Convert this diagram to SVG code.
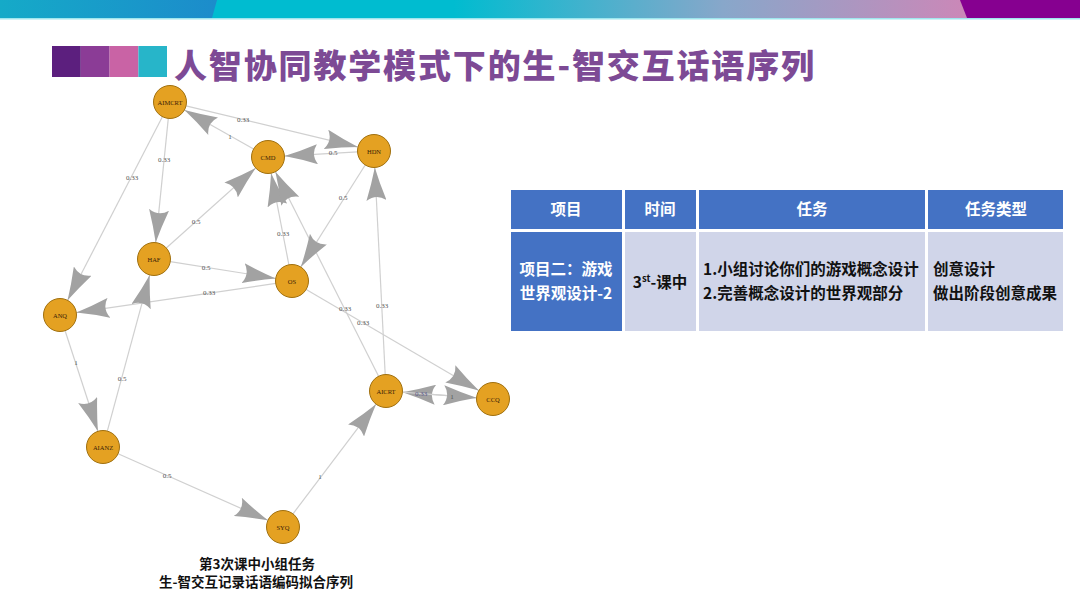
<svg xmlns="http://www.w3.org/2000/svg" width="1080" height="608" viewBox="0 0 1080 608">
<defs>
<linearGradient id="bannerGrad" x1="0" y1="0" x2="1080" y2="0" gradientUnits="userSpaceOnUse">
<stop offset="0" stop-color="#00BCD0"/>
<stop offset="0.42" stop-color="#00BCD0"/>
<stop offset="0.67" stop-color="#88A7CA"/>
<stop offset="0.89" stop-color="#CA88B8"/>
<stop offset="1" stop-color="#CA88B8"/>
</linearGradient>
<linearGradient id="leftGrad" x1="0" y1="0" x2="217" y2="0" gradientUnits="userSpaceOnUse">
<stop offset="0" stop-color="#15AAC8"/>
<stop offset="1" stop-color="#1C8CCB"/>
</linearGradient>
<marker id="ah" viewBox="0 0 33 20" refX="33" refY="10" markerWidth="33" markerHeight="20" markerUnits="userSpaceOnUse" orient="auto">
<path d="M33,10 Q17,6 0,0 Q7,10 0,20 Q17,14 33,10 Z" fill="#a2a2a2"/>
</marker>
<style>
.edge{stroke:#d0d0d0;stroke-width:1.2;fill:none;marker-end:url(#ah)}
.elab{font-family:"Liberation Serif",serif;font-size:7px;fill:#555;text-anchor:middle;dominant-baseline:central}
.node circle{fill:#E4A122;stroke:#A0700F;stroke-width:1}
.node text{font-family:"Liberation Serif",serif;font-size:6.5px;fill:#3a2208;text-anchor:middle;dominant-baseline:central}
.th{fill:#4472C4}
.td{fill:#D0D5E9}
.ht{font-family:"Noto Sans CJK SC","Noto Sans",sans-serif;font-size:15.5px;font-weight:700;fill:#fff;text-anchor:middle}
.bt{font-family:"Noto Sans CJK SC","Noto Sans",sans-serif;font-size:15.5px;font-weight:700;fill:#111}
.cap{font-family:"Noto Sans CJK SC","Noto Sans",sans-serif;font-size:13.5px;font-weight:700;fill:#111;text-anchor:middle}
</style>
</defs>
<rect width="1080" height="608" fill="#fff"/>
<!-- banner -->
<rect x="0" y="0" width="1080" height="18" fill="url(#bannerGrad)"/>
<polygon points="0,0 217,0 212,18 0,18" fill="url(#leftGrad)"/>
<polygon points="960,0 1080,0 1080,18 967,18" fill="#860090"/>
<rect x="0" y="18" width="1080" height="1.5" fill="#9FE6EE"/>
<!-- title -->
<rect x="52" y="46" width="28.8" height="31" fill="#5C1F7E"/>
<rect x="80.8" y="46" width="28.8" height="31" fill="#8B3C96"/>
<rect x="109.6" y="46" width="28.8" height="31" fill="#C963A5"/>
<rect x="138.4" y="46" width="28.6" height="31" fill="#27B5C9"/>
<text x="174" y="78" font-family="'Noto Sans CJK SC','Noto Sans',sans-serif" font-size="33" font-weight="900" fill="#7D4A95" textLength="640" lengthAdjust="spacing">人智协同教学模式下的生-智交互话语序列</text>
<!-- connectors -->
<g id="connectors">
<line class="edge" x1="186.0" y1="105.9" x2="358.0" y2="147.1"/>
<line class="edge" x1="253.6" y1="148.9" x2="184.4" y2="110.1"/>
<line class="edge" x1="357.5" y1="151.9" x2="284.5" y2="156.1"/>
<line class="edge" x1="168.3" y1="118.4" x2="155.7" y2="242.6"/>
<line class="edge" x1="162.4" y1="116.7" x2="67.6" y2="300.3"/>
<line class="edge" x1="166.3" y1="248.0" x2="255.7" y2="168.0"/>
<line class="edge" x1="288.9" y1="264.8" x2="271.1" y2="173.2"/>
<line class="edge" x1="378.6" y1="376.3" x2="275.4" y2="171.7"/>
<line class="edge" x1="365.2" y1="165.0" x2="300.8" y2="267.0"/>
<line class="edge" x1="385.2" y1="374.5" x2="374.8" y2="167.5"/>
<line class="edge" x1="170.3" y1="261.6" x2="275.7" y2="278.4"/>
<line class="edge" x1="275.7" y1="283.4" x2="76.3" y2="312.6"/>
<line class="edge" x1="65.1" y1="330.7" x2="97.9" y2="431.3"/>
<line class="edge" x1="107.3" y1="431.1" x2="149.7" y2="274.9"/>
<line class="edge" x1="118.1" y1="453.7" x2="267.9" y2="520.3"/>
<line class="edge" x1="293.0" y1="513.8" x2="376.0" y2="404.2"/>
<line class="edge" x1="306.2" y1="289.4" x2="478.8" y2="390.6"/>
<line class="edge" x1="476.5" y1="397.8" x2="402.5" y2="392.2"/>
<line class="edge" x1="402.5" y1="392.2" x2="476.5" y2="397.8"/>
<text class="elab" x="243" y="120">0.33</text>
<text class="elab" x="230" y="137">1</text>
<text class="elab" x="333" y="153">0.5</text>
<text class="elab" x="164" y="160">0.33</text>
<text class="elab" x="132" y="178">0.33</text>
<text class="elab" x="343" y="198">0.5</text>
<text class="elab" x="196" y="222">0.5</text>
<text class="elab" x="283" y="234">0.33</text>
<text class="elab" x="206" y="268">0.5</text>
<text class="elab" x="209" y="293">0.33</text>
<text class="elab" x="345" y="309">0.33</text>
<text class="elab" x="382" y="306">0.33</text>
<text class="elab" x="363" y="323">0.33</text>
<text class="elab" x="76" y="363">1</text>
<text class="elab" x="122" y="379">0.5</text>
<text class="elab" x="167" y="476">0.5</text>
<text class="elab" x="320" y="477">1</text>
<text class="elab" x="421" y="394" style="fill:#5a5a8c">0.33</text>
<text class="elab" x="452" y="397">1</text>
</g>
<!-- nodes -->
<g id="n-AIMCRT" class="node"><circle cx="170" cy="102" r="16.5"/><text x="170" y="102">AIMCRT</text></g>
<g id="n-CMD" class="node"><circle cx="268" cy="157" r="16.5"/><text x="268" y="157">CMD</text></g>
<g id="n-HDN" class="node"><circle cx="374" cy="151" r="16.5"/><text x="374" y="151">HDN</text></g>
<g id="n-HAF" class="node"><circle cx="154" cy="259" r="16.5"/><text x="154" y="259">HAF</text></g>
<g id="n-OS" class="node"><circle cx="292" cy="281" r="16.5"/><text x="292" y="281">OS</text></g>
<g id="n-ANQ" class="node"><circle cx="60" cy="315" r="16.5"/><text x="60" y="315">ANQ</text></g>
<g id="n-AIANZ" class="node"><circle cx="103" cy="447" r="16.5"/><text x="103" y="447">AIANZ</text></g>
<g id="n-SYQ" class="node"><circle cx="283" cy="527" r="16.5"/><text x="283" y="527">SYQ</text></g>
<g id="n-AICRT" class="node"><circle cx="386" cy="391" r="16.5"/><text x="386" y="391">AICRT</text></g>
<g id="n-CCQ" class="node"><circle cx="493" cy="399" r="16.5"/><text x="493" y="399">CCQ</text></g>
<!-- caption -->
<text class="cap" x="257" y="569">第3次课中小组任务</text>
<text class="cap" x="256" y="587">生-智交互记录话语编码拟合序列</text>
<!-- table -->
<g id="table">
<rect class="th" x="511" y="190" width="111" height="39"/>
<rect class="th" x="625" y="190" width="71" height="39"/>
<rect class="th" x="699" y="190" width="226" height="39"/>
<rect class="th" x="928" y="190" width="135" height="39"/>
<rect class="th" x="511" y="232" width="111" height="99"/>
<rect class="td" x="625" y="232" width="71" height="99"/>
<rect class="td" x="699" y="232" width="226" height="99"/>
<rect class="td" x="928" y="232" width="135" height="99"/>
<text class="ht" x="566" y="215">项目</text>
<text class="ht" x="660" y="215">时间</text>
<text class="ht" x="812" y="215">任务</text>
<text class="ht" x="996" y="215">任务类型</text>
<text class="ht" x="566" y="275">项目二：游戏</text>
<text class="ht" x="566" y="299">世界观设计-2</text>
<text class="bt" x="660" y="288" text-anchor="middle"><tspan>3</tspan><tspan font-size="9.5" dy="-6">st</tspan><tspan dy="6">-课中</tspan></text>
<text class="bt" x="703" y="275">1.小组讨论你们的游戏概念设计</text>
<text class="bt" x="703" y="299">2.完善概念设计的世界观部分</text>
<text class="bt" x="933" y="275">创意设计</text>
<text class="bt" x="933" y="299">做出阶段创意成果</text>
</g>
</svg>
